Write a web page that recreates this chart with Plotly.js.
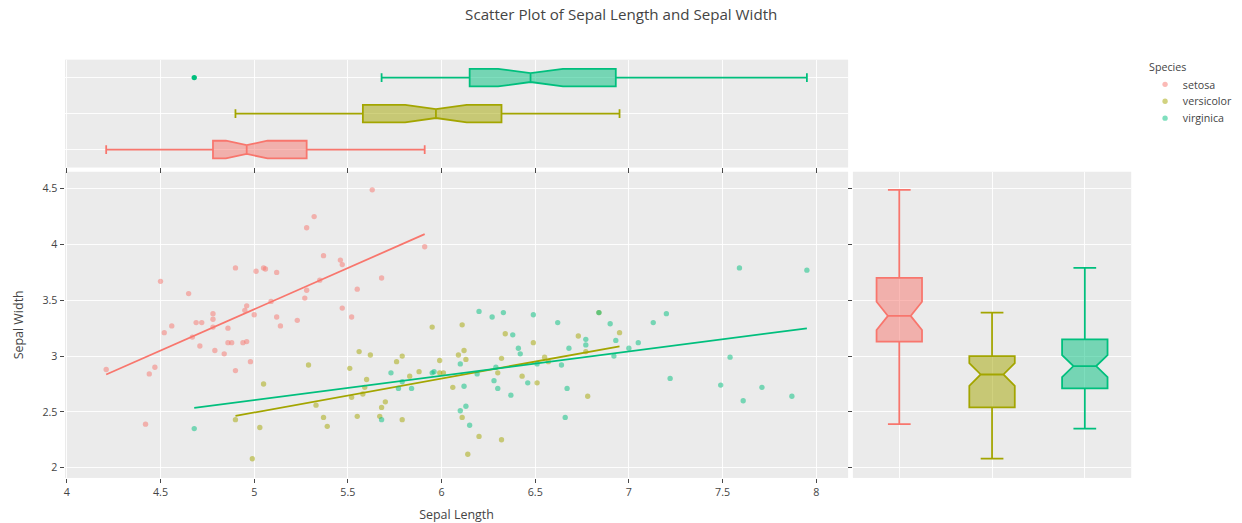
<!DOCTYPE html>
<html>
<head>
<meta charset="utf-8">
<script src="https://cdn.plot.ly/plotly-3.0.1.min.js"></script>
<style>
html,body{margin:0;padding:0;background:#fff;overflow:hidden;}
#frame{width:1242px;height:523px;overflow:hidden;}
#chart{width:1396px;height:588px;transform:scale(0.89);transform-origin:0 0;}
</style>
</head>
<body>
<div id="frame"><div id="chart"></div></div>
<script>
// Iris measurements (jittered), one pair of arrays per species
const species = ['setosa', 'versicolor', 'virginica'];

const setosaLength = [4.90,5.01,5.05,5.06,5.12,4.50,4.65,4.96,4.95,5.09,5.00,4.78,4.78,5.12,5.14,4.56,4.69,4.72,4.78,4.86,
  4.52,4.67,4.71,4.86,4.88,4.94,4.96,4.79,4.84,4.98,4.90,4.21,4.47,4.44,4.42,5.63,5.32,5.28,5.37,5.46,
  5.47,5.91,5.68,5.35,5.28,5.27,5.55,5.47,5.52,5.23];
const setosaWidth = [3.79,3.76,3.79,3.78,3.75,3.67,3.56,3.45,3.41,3.49,3.37,3.38,3.33,3.35,3.27,3.27,3.30,3.30,3.26,3.25,
  3.21,3.17,3.09,3.12,3.12,3.12,3.13,3.05,3.02,2.95,2.87,2.88,2.90,2.84,2.39,4.49,4.25,4.15,3.90,3.86,
  3.82,3.98,3.70,3.68,3.59,3.52,3.60,3.43,3.35,3.32];

const versicolorLength = [5.05,4.90,5.03,4.99,5.95,6.11,5.56,5.62,5.29,5.51,5.79,5.76,5.60,5.59,5.83,5.88,5.99,5.99,6.01,6.09,
  6.12,6.13,6.06,5.52,5.58,5.33,5.70,5.68,5.37,5.39,5.55,5.67,5.79,6.11,6.20,6.14,6.84,6.34,6.49,6.73,
  6.95,6.77,6.32,6.55,6.57,6.30,6.43,6.51,6.78,6.32];
const versicolorWidth = [2.75,2.43,2.36,2.08,3.26,3.28,3.04,3.01,2.92,2.89,3.00,2.95,2.79,2.72,2.82,2.86,2.96,2.85,2.85,3.01,
  3.05,2.97,2.72,2.63,2.66,2.56,2.59,2.54,2.45,2.37,2.46,2.46,2.43,2.45,2.28,2.12,3.39,3.20,3.12,3.18,
  3.21,3.04,2.98,2.99,2.95,2.85,2.82,2.76,2.64,2.25];

const virginicaLength = [4.68,6.20,5.73,5.79,5.77,5.84,5.95,5.96,6.10,6.12,6.19,5.68,6.10,6.13,6.15,6.27,6.33,6.49,6.62,6.84,
  6.90,7.13,7.20,6.38,6.77,6.77,6.93,7.05,6.41,6.42,6.68,7.00,6.92,6.51,6.64,6.29,6.28,6.46,6.30,6.67,
  7.22,6.37,6.66,7.59,7.95,7.54,7.49,7.71,7.61,7.87];
const virginicaWidth = [2.35,3.40,2.85,2.77,2.71,2.71,2.85,2.86,2.93,2.73,2.84,2.43,2.51,2.55,2.38,3.35,3.39,3.37,3.30,3.39,
  3.29,3.30,3.38,3.19,3.15,3.10,3.14,3.12,3.07,3.02,3.07,3.07,3.00,2.93,2.92,2.90,2.78,2.76,2.71,2.71,
  2.80,2.65,2.45,3.79,3.77,2.99,2.74,2.72,2.60,2.64];

const lengths = [setosaLength, versicolorLength, virginicaLength];
const widths = [setosaWidth, versicolorWidth, virginicaWidth];
const colors = ['#F8766D', '#A3A500', '#00BF7D'];

// ordinary least squares fit, evaluated at the smallest and largest x
function olsLine(xs, ys) {
  const n = xs.length;
  const mx = xs.reduce((a, b) => a + b, 0) / n;
  const my = ys.reduce((a, b) => a + b, 0) / n;
  let sxy = 0, sxx = 0;
  for (let i = 0; i < n; i++) { sxy += (xs[i] - mx) * (ys[i] - my); sxx += (xs[i] - mx) ** 2; }
  const slope = sxy / sxx, icpt = my - slope * mx;
  const lo = Math.min(...xs), hi = Math.max(...xs);
  return { x: [lo, hi], y: [icpt + slope * lo, icpt + slope * hi] };
}

const traces = [];
species.forEach((name, i) => {
  traces.push({
    type: 'scatter', mode: 'markers', name: name, legendgroup: name,
    x: lengths[i], y: widths[i], xaxis: 'x', yaxis: 'y',
    marker: { color: colors[i], size: 6, opacity: 0.5 }
  });
  // sepal width distribution, right margin
  traces.push({
    type: 'box', name: name, legendgroup: name, showlegend: false,
    y: widths[i], x0: name, xaxis: 'x2', yaxis: 'y2', notched: true,
    marker: { color: colors[i] }, line: { color: colors[i] }
  });
  // sepal length distribution, top margin
  traces.push({
    type: 'box', name: name, legendgroup: name, showlegend: false, orientation: 'h',
    x: lengths[i], y0: name, xaxis: 'x3', yaxis: 'y3', notched: true,
    marker: { color: colors[i] }, line: { color: colors[i] }
  });
  const fit = olsLine(lengths[i], widths[i]);
  traces.push({
    type: 'scatter', mode: 'lines', name: name, legendgroup: name, showlegend: false,
    x: fit.x, y: fit.y, xaxis: 'x', yaxis: 'y',
    line: { color: colors[i], width: 2 }
  });
});

const axisBase = {
  gridcolor: 'white', linecolor: 'white', zeroline: false, showline: false,
  ticks: 'outside', tickcolor: 'rgb(51,51,51)', ticklen: 5, automargin: false,
  tickfont: { size: 12, color: 'rgb(68,68,68)' }
};

const layout = {
  width: 1396, height: 588,
  paper_bgcolor: 'white', plot_bgcolor: 'rgb(235,235,235)',
  font: { family: '"Open Sans", verdana, arial, sans-serif', size: 12, color: 'rgb(68,68,68)' },
  margin: { l: 73, r: 125, t: 67, b: 51 },
  title: { text: 'Scatter Plot of Sepal Length and Sepal Width', x: 0.5, xref: 'container',
           y: 0.971, yref: 'container', yanchor: 'middle', font: { size: 17 } },
  boxmode: 'overlay',
  showlegend: true,
  legend: { x: 0.9234, xref: 'container', y: 0.890, yref: 'container', xanchor: 'left', yanchor: 'top',
            tracegroupgap: 0, title: { text: 'Species', font: { size: 12 } }, font: { size: 12 } },
  xaxis: Object.assign({}, axisBase, { domain: [0, 0.7345], anchor: 'y', range: [3.99, 8.17], dtick: 0.5,
           title: { text: 'Sepal Length', font: { size: 14 }, standoff: 12 } }),
  yaxis: Object.assign({}, axisBase, { domain: [0, 0.732], anchor: 'x', range: [1.908, 4.652], dtick: 0.5,
           title: { text: 'Sepal Width', font: { size: 14 }, standoff: 17 } }),
  xaxis2: Object.assign({}, axisBase, { domain: [0.739, 1], anchor: 'y2', type: 'category',
           categoryarray: species, range: [-0.5, 2.5], showticklabels: false, ticks: '' }),
  yaxis2: Object.assign({}, axisBase, { domain: [0, 0.732], anchor: 'x2', matches: 'y', showticklabels: false }),
  xaxis3: Object.assign({}, axisBase, { domain: [0, 0.7345], anchor: 'y3', matches: 'x', showticklabels: false }),
  yaxis3: Object.assign({}, axisBase, { domain: [0.742, 1], anchor: 'x3', type: 'category',
           categoryarray: species, range: [-0.5, 2.5], showticklabels: false, ticks: '' })
};

Plotly.newPlot('chart', traces, layout, { displayModeBar: false, responsive: false });
</script>
</body>
</html>
